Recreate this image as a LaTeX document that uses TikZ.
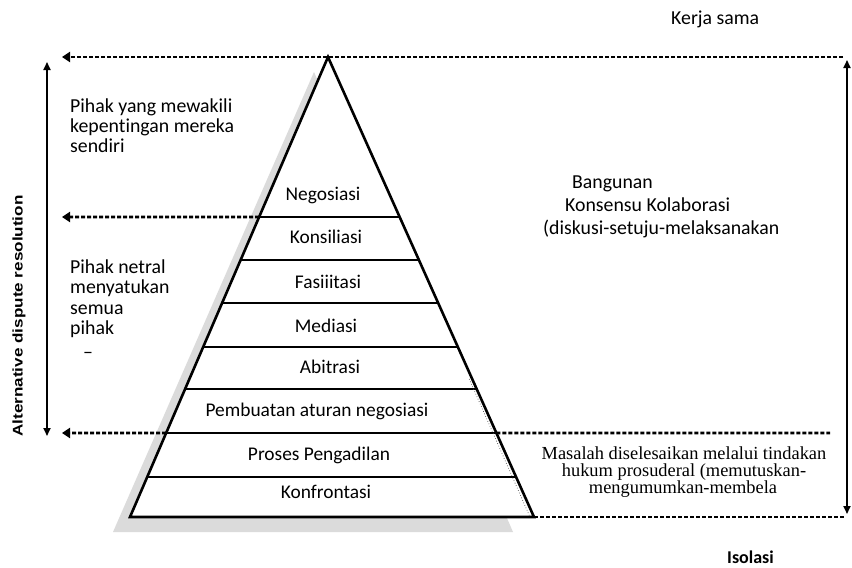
\documentclass[tikz,border=0pt]{standalone}
\usepackage{fontspec}
\setmainfont{Carlito}[Ligatures=NoCommon]
\newfontfamily\serifface{Liberation Serif}
\newfontfamily\arialface{Liberation Sans}
\usetikzlibrary{arrows.meta,calc}
\begin{document}
\begin{tikzpicture}[x=1pt,y=-1pt,
  pyr/.style={line width=2.6pt, line join=miter},
  layer/.style={line width=2.5pt},
  dotl/.style={line width=2.8pt, dash pattern=on 4pt off 2pt},
  dotarr/.style={dotl, -{Triangle[length=8pt,width=10pt]}},
  biarr/.style={line width=1.8pt, {Triangle[length=8pt,width=7pt]}-{Triangle[length=8pt,width=7pt]}},
  lbl/.style={font=\fontsize{19.4}{21}\selectfont, anchor=base, inner sep=0pt, text=black},
  txt/.style={font=\fontsize{19.8}{21}\selectfont, anchor=base west, inner sep=0pt, text=black},
  serif/.style={font=\serifface\fontsize{18.4}{17}\selectfont, anchor=base, inner sep=0pt, text=black}
]
\useasboundingbox (0,0) rectangle (852,568);
\fill[white] (0,0) rectangle (852,568);

% pyramid
\coordinate (A) at (328,57);
\coordinate (BL) at (130,517);
\coordinate (BR) at (534,517);
\coordinate (S1) at (314,72);
\coordinate (S2) at (113,532);
\coordinate (S3) at (513,532);
\fill[gray!28] (S1) -- (S2) -- (S3) -- cycle;
\draw[pyr, fill=white] (A) -- (BL) -- (BR) -- cycle;

\foreach \t [count=\i] in {0.34783,0.44130,0.53478,0.63043,0.72174,0.81739,0.91304} {
  \coordinate (L\i) at ($(A)!\t!(BL)$);
  \coordinate (R\i) at ($(A)!\t!(BR)$);
  \draw[layer] (L\i) -- (R\i);
}

% thin dotted inner line near right edge
\coordinate (D1) at ($(A)!0.70!(BR)+(-3,0)$);
\coordinate (D2) at ($(BR)+(-4,0)$);
\draw[line width=0.7pt, dotted, black!70] (D1) -- (D2);

% dotted connectors
\coordinate (TR) at (843,57);
\coordinate (TL) at (62,57);
\draw[dotarr] (TR) -- (TL);
\coordinate (ML) at (62,217);
\draw[dotarr] (L1) -- (ML);
\coordinate (LL) at (62,433);
\draw[dotarr] (L6) -- (LL);
\coordinate (RR6) at (830,433);
\draw[dotl] (R6) -- (RR6);
\coordinate (RB) at (845,517);
\draw[dotl] (BR) -- (RB);

% vertical arrows
\coordinate (VLt) at (47,62);
\coordinate (VLb) at (47,436);
\draw[biarr] (VLb) -- (VLt);
\coordinate (VRt) at (847,60);
\coordinate (VRb) at (847,514);
\draw[biarr] (VRb) -- (VRt);

% pyramid labels
\node[lbl] (n1) at (323,200) {Negosiasi};
\node[lbl] (n2) at (326,243) {Konsiliasi};
\node[lbl] (n3) at (328,288) {Fasiiitasi};
\node[lbl] (n4) at (326,332) {Mediasi};
\node[lbl] (n5) at (330,373) {Abitrasi};
\node[lbl] (n6) at (317,416) {Pembuatan aturan negosiasi};
\node[lbl] (n7) at (319,460) {Proses Pengadilan};
\node[lbl] (n8) at (326,498) {Konfrontasi};

% left texts
\node[txt] (p1) at (70,112) {Pihak yang mewakili};
\node[txt] (p2) at (70,132) {kepentingan mereka};
\node[txt] (p3) at (70,152) {sendiri};
\node[txt] (q1) at (70,273) {Pihak netral};
\node[txt] (q2) at (70,293.5) {menyatukan};
\node[txt] (q3) at (70,314) {semua};
\node[txt] (q4) at (70,334) {pihak};
\node[txt] (q5) at (83,358) {–};

% right texts
\node[txt] (k0) at (671,24) {Kerja sama};
\node[txt] (b1) at (572,188) {Bangunan};
\node[txt] (b2) at (565,211) {Konsensu Kolaborasi};
\node[txt] (b3) at (543,234) {(diskusi-setuju-melaksanakan};
\node[serif] (m1) at (684,459) {Masalah diselesaikan melalui tindakan};
\node[serif] (m2) at (684,476) {hukum prosuderal (memutuskan-};
\node[serif] (m3) at (683,493) {mengumumkan-membela};
\node[txt, font=\bfseries\fontsize{18}{21}\selectfont] (iso) at (727,563) {Isolasi};

% rotated axis label
\node[font=\arialface\bfseries\fontsize{14}{16}\selectfont, rotate=90, inner sep=0pt] (adr) at (19,316) {\scalebox{1.22}[1]{Alternative dispute resolution}};
\end{tikzpicture}
\end{document}
